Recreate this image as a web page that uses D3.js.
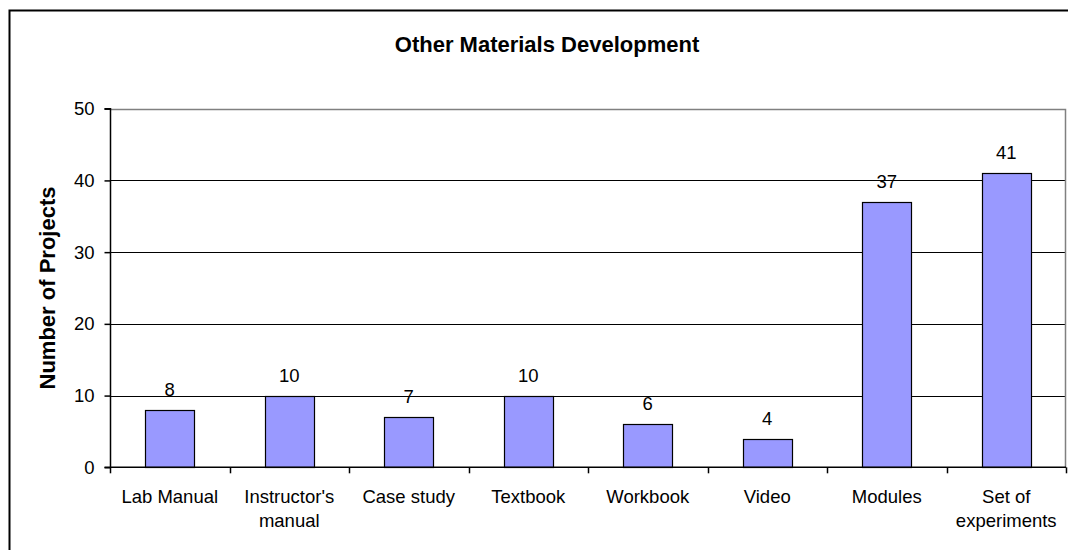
<!DOCTYPE html>
<html>
<head>
<meta charset="utf-8">
<script src="https://cdn.jsdelivr.net/npm/d3@7/dist/d3.min.js"></script>
<style>
  html, body { margin: 0; padding: 0; background: #fff; }
  svg { display: block; }
  text { font-family: "Liberation Sans", Arial, sans-serif; fill: #000; }
</style>
</head>
<body>
<svg id="chart" width="1068" height="550"></svg>
<script>
const categories = ["Lab Manual", "Instructor's manual", "Case study", "Textbook", "Workbook", "Video", "Modules", "Set of experiments"];
const values = [8, 10, 7, 10, 6, 4, 37, 41];
const yTicks = [0, 10, 20, 30, 40, 50];
const title = "Other Materials Development";
const yTitle = "Number of Projects";

const svg = d3.select("#chart");
const W = 1068, H = 550;
const plot = { left: 110, right: 1066, top: 108.7, bottom: 467.3 };

// outer chart border
svg.append("rect")
  .attr("x", 9.5).attr("y", 10.5)
  .attr("width", W + 20).attr("height", H + 20)
  .attr("fill", "#fff").attr("stroke", "#000").attr("stroke-width", 2);

const x = d3.scaleBand().domain(categories).range([plot.left, plot.right]).padding(0);
const y = d3.scaleLinear().domain([0, 50]).range([plot.bottom, plot.top]);

// gridlines
svg.append("g").selectAll("line")
  .data(yTicks.filter(t => t > 0 && t < 50))
  .join("line")
  .attr("x1", plot.left).attr("x2", plot.right)
  .attr("y1", d => Math.round(y(d)) + 0.5).attr("y2", d => Math.round(y(d)) + 0.5)
  .attr("stroke", "#000").attr("stroke-width", 1);

// plot border top/right (gray)
svg.append("path")
  .attr("d", `M${plot.left},${Math.round(plot.top) + 0.5}H${plot.right - 0.5}V${plot.bottom}`)
  .attr("fill", "none").attr("stroke", "#808080").attr("stroke-width", 1.5);

// bars
const bw = x.bandwidth() / 2.45;
svg.append("g").selectAll("rect")
  .data(values)
  .join("rect")
  .attr("x", (d, i) => Math.round(x(categories[i]) + x.bandwidth() / 2 - bw / 2) + 0.5)
  .attr("y", d => Math.round(y(d)) + 0.5)
  .attr("width", Math.round(bw))
  .attr("height", d => Math.round(y(0)) - Math.round(y(d)))
  .attr("fill", "#9999FF").attr("stroke", "#000").attr("stroke-width", 1.2);

// data labels
svg.append("g").selectAll("text")
  .data(values)
  .join("text")
  .attr("x", (d, i) => x(categories[i]) + x.bandwidth() / 2)
  .attr("y", d => y(d) - 14)
  .attr("text-anchor", "middle")
  .style("font-size", "18.5px")
  .text(d => d);

// y axis
const yAxis = d3.axisLeft(y).tickValues(yTicks).tickSize(6).tickPadding(10);
const gy = svg.append("g").attr("transform", `translate(${plot.left + 0.5},0)`).call(yAxis);
gy.select(".domain").attr("stroke", "#000").attr("stroke-width", 1.5).attr("d", `M-6,${plot.top}H0V${plot.bottom}H-6`);
gy.selectAll(".tick line").attr("stroke", "#000").attr("stroke-width", 1.5);
gy.selectAll(".tick text")
  .style("font-size", "18.5px")
  .style("font-family", '"Liberation Sans", Arial, sans-serif')
  .attr("fill", "#000");

// x axis
const gx = svg.append("g").attr("transform", `translate(0,${plot.bottom})`);
gx.append("line")
  .attr("x1", plot.left).attr("x2", plot.right)
  .attr("y1", 0).attr("y2", 0)
  .attr("stroke", "#000").attr("stroke-width", 1.5);
const boundaries = categories.map(c => x(c)).concat([plot.right]);
gx.selectAll("line.tk")
  .data(boundaries)
  .join("line").attr("class", "tk")
  .attr("x1", d => Math.round(d) + 0.5).attr("x2", d => Math.round(d) + 0.5)
  .attr("y1", 0).attr("y2", 6)
  .attr("stroke", "#000").attr("stroke-width", 1.5);

// category labels with wrapping
function wrapLines(text, maxW, fontSize) {
  const ctx = document.createElement("canvas").getContext("2d");
  ctx.font = `${fontSize}px "Liberation Sans", Arial, sans-serif`;
  const words = text.split(" ");
  const lines = [];
  let cur = "";
  words.forEach(w => {
    const test = cur ? cur + " " + w : w;
    if (ctx.measureText(test).width > maxW && cur) { lines.push(cur); cur = w; }
    else cur = test;
  });
  if (cur) lines.push(cur);
  return lines;
}
categories.forEach(c => {
  const lines = wrapLines(c, 110, 18.5);
  const t = svg.append("text")
    .attr("x", x(c) + x.bandwidth() / 2)
    .attr("y", 503)
    .attr("text-anchor", "middle")
    .style("font-size", "18.5px");
  lines.forEach((l, i) => {
    t.append("tspan").attr("x", x(c) + x.bandwidth() / 2).attr("dy", i === 0 ? 0 : 24).text(l);
  });
});

// title
svg.append("text")
  .attr("x", 547).attr("y", 52)
  .attr("text-anchor", "middle")
  .style("font-size", "22px").style("font-weight", "bold")
  .text(title);

// y axis title
svg.append("text")
  .attr("transform", `translate(55,${(plot.top + plot.bottom) / 2}) rotate(-90)`)
  .attr("text-anchor", "middle")
  .style("font-size", "22px").style("font-weight", "bold")
  .text(yTitle);
</script>
</body>
</html>
